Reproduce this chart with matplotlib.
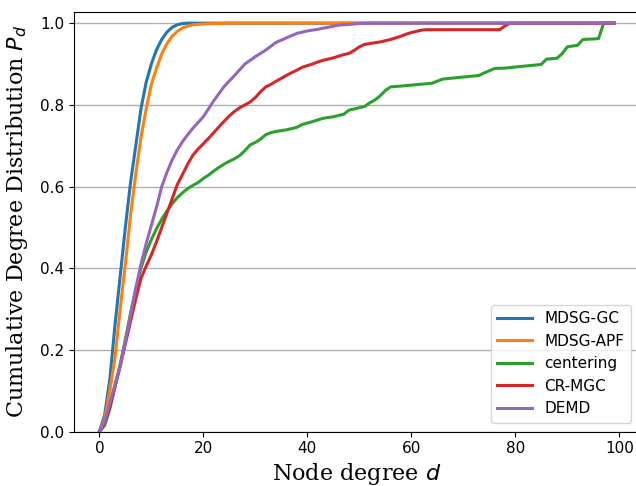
import matplotlib
matplotlib.use("Agg")
import matplotlib.pyplot as plt

# degree CDF per method, sampled at the degrees where the curve bends
gc_deg = list(range(0, 18)) + [99]
gc_cdf = [0, 0.04, 0.127, 0.26, 0.38, 0.5, 0.61, 0.70, 0.79, 0.855, 0.90,
          0.935, 0.96, 0.978, 0.99, 0.996, 0.999, 1.0, 1.0]

apf_deg = list(range(0, 21)) + [25, 99]
apf_cdf = [0, 0.03, 0.10, 0.18, 0.30, 0.41, 0.53, 0.63, 0.72, 0.79, 0.85,
           0.89, 0.925, 0.95, 0.968, 0.98, 0.988, 0.993, 0.996, 0.997, 0.998,
           1.0, 1.0]

cent_deg = list(range(0, 35)) + [36, 38, 39, 41, 43, 45, 47, 48, 51, 52, 53,
                                  54, 55, 56, 58, 64, 66, 73, 74, 76, 78, 85,
                                  86, 88, 89, 90, 92, 93, 96, 97, 99]
cent_cdf = [0, 0.015, 0.055, 0.11, 0.165, 0.225, 0.29, 0.35, 0.40, 0.44,
            0.47, 0.497, 0.52, 0.54, 0.558, 0.573, 0.585, 0.595, 0.603, 0.61,
            0.62, 0.628, 0.638, 0.647, 0.655, 0.662, 0.668, 0.676, 0.688,
            0.702, 0.708, 0.716, 0.727, 0.732, 0.735,
            0.739, 0.745, 0.752, 0.759, 0.767, 0.771, 0.777, 0.787, 0.796,
            0.805, 0.812, 0.822, 0.835, 0.844, 0.846, 0.853, 0.863, 0.872,
            0.878, 0.889, 0.89, 0.899, 0.912, 0.914, 0.925, 0.942, 0.946,
            0.960, 0.962, 1.0, 1.0]

crmgc_deg = list(range(0, 64)) + [77, 78, 79, 99]
crmgc_cdf = [0, 0.02, 0.06, 0.11, 0.16, 0.215, 0.27, 0.325, 0.375, 0.405,
             0.433, 0.465, 0.5, 0.535, 0.57, 0.605, 0.63, 0.655, 0.677, 0.692,
             0.705, 0.718, 0.732, 0.746, 0.76, 0.773, 0.784, 0.793, 0.8,
             0.807, 0.818, 0.832, 0.844, 0.85, 0.858, 0.865, 0.872, 0.879,
             0.885, 0.892, 0.896, 0.9, 0.905, 0.909, 0.912, 0.915, 0.919,
             0.923, 0.926, 0.933, 0.942, 0.948, 0.95, 0.952, 0.954, 0.957,
             0.96, 0.964, 0.968, 0.973, 0.977, 0.98, 0.983, 0.984,
             0.984, 0.993, 1.0, 1.0]

demd_deg = list(range(0, 21)) + list(range(22, 54, 2)) + [99]
demd_cdf = [0, 0.025, 0.07, 0.115, 0.16, 0.22, 0.285, 0.35, 0.41, 0.46,
            0.505, 0.55, 0.60, 0.635, 0.665, 0.69, 0.71, 0.727, 0.743, 0.757,
            0.771, 0.81, 0.845, 0.872, 0.9, 0.918, 0.934, 0.953, 0.964, 0.975,
            0.981, 0.985, 0.99, 0.995, 0.997, 0.999, 1.0, 1.0]

series = [
    ("MDSG-GC", gc_deg, gc_cdf),
    ("MDSG-APF", apf_deg, apf_cdf),
    ("centering", cent_deg, cent_cdf),
    ("CR-MGC", crmgc_deg, crmgc_cdf),
    ("DEMD", demd_deg, demd_cdf),
]

fig = plt.figure(figsize=(6.36, 4.86), dpi=100)
ax = fig.add_axes([0.1164, 0.1117, 0.8896, 0.8642])

for name, deg, cdf in series:
    ax.plot(deg, cdf, linewidth=2.2, label=name)

ax.set_xlim(-4.87, 103.95)
ax.set_ylim(0, 1.028)
ax.grid(axis="y", color="#b0b0b0", linewidth=1)
ax.set_axisbelow(True)
ax.tick_params(labelsize=11)

ax.set_xlabel("Node degree $d$", family="DejaVu Serif", fontsize=16, labelpad=3)
ax.set_ylabel("Cumulative Degree Distribution $P_d$", family="DejaVu Serif",
              fontsize=16, labelpad=7)
ax.legend(loc="lower right", fontsize=11, handlelength=2.3, borderaxespad=0.6)

fig.savefig("out.png", dpi=100)
